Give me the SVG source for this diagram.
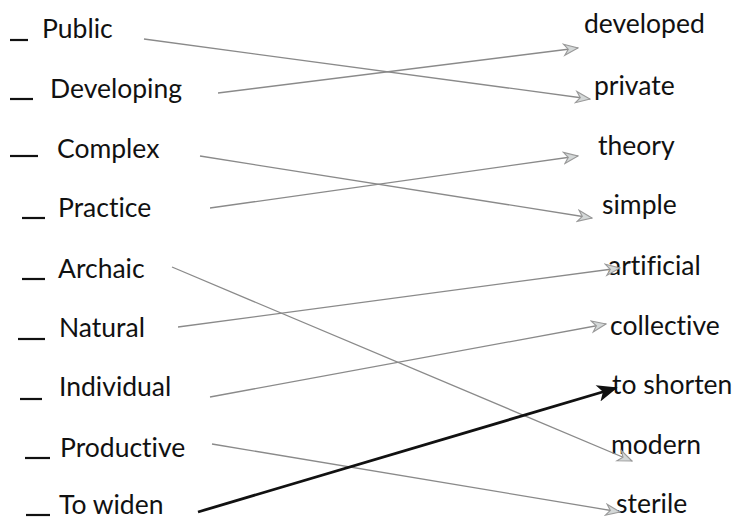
<svg xmlns="http://www.w3.org/2000/svg" width="739" height="521" viewBox="0 0 739 521">
<style>
text{font-family:Lato,"Open Sans","Liberation Sans",sans-serif;font-size:26.5px;fill:#111;font-variant-ligatures:none;font-feature-settings:"liga" 0}
.dash{stroke:#111;stroke-width:2.2}
.g{stroke:#8a8a8a;stroke-width:1.3;fill:none}
.b{stroke:#111;stroke-width:2.8;fill:none}
</style>
<defs>
<marker id="ga" viewBox="0 0 12 10" refX="11" refY="5" markerWidth="17" markerHeight="14" markerUnits="userSpaceOnUse" orient="auto">
<path d="M1,1 L11,5 L1,9 L4,5 Z" fill="#d4d8d8" stroke="#999" stroke-width="0.8"/>
</marker>
<marker id="ba" viewBox="0 0 12 10" refX="11" refY="5" markerWidth="22" markerHeight="17" markerUnits="userSpaceOnUse" orient="auto">
<path d="M0,0 L12,5 L0,10 L3,5 Z" fill="#111"/>
</marker>
</defs>
<rect width="739" height="521" fill="#fff"/>
<g id="left">
<g id="n-public"><line class="dash" x1="10" y1="40" x2="28" y2="40"/><text x="42" y="38">Public</text></g>
<g id="n-developing"><line class="dash" x1="10" y1="99" x2="33" y2="99"/><text x="50" y="98">Developing</text></g>
<g id="n-complex"><line class="dash" x1="10" y1="156" x2="38" y2="156"/><text x="57" y="158">Complex</text></g>
<g id="n-practice"><line class="dash" x1="22" y1="218" x2="45" y2="218"/><text x="58" y="217">Practice</text></g>
<g id="n-archaic"><line class="dash" x1="22" y1="279" x2="45" y2="279"/><text x="58" y="278">Archaic</text></g>
<g id="n-natural"><line class="dash" x1="18" y1="339" x2="45" y2="339"/><text x="59" y="337">Natural</text></g>
<g id="n-individual"><line class="dash" x1="20" y1="399" x2="42" y2="399"/><text x="59" y="396">Individual</text></g>
<g id="n-productive"><line class="dash" x1="25" y1="458" x2="50" y2="458"/><text x="60" y="457">Productive</text></g>
<g id="n-towiden"><line class="dash" x1="26" y1="515" x2="50" y2="515"/><text x="59" y="514">To widen</text></g>
</g>
<g id="right">
<g id="n-developed"><text x="584" y="33">developed</text></g>
<g id="n-private"><text x="594" y="95">private</text></g>
<g id="n-theory"><text x="598" y="155">theory</text></g>
<g id="n-simple"><text x="602" y="214">simple</text></g>
<g id="n-artificial"><text x="608" y="275">artificial</text></g>
<g id="n-collective"><text x="610" y="335">collective</text></g>
<g id="n-toshorten"><text x="612" y="394">to shorten</text></g>
<g id="n-modern"><text x="611" y="454">modern</text></g>
<g id="n-sterile"><text x="616" y="513">sterile</text></g>
</g>
<g id="connectors">
<line class="g" x1="144" y1="39" x2="590" y2="99" marker-end="url(#ga)"/>
<line class="g" x1="218" y1="93" x2="578" y2="48" marker-end="url(#ga)"/>
<line class="g" x1="200" y1="156" x2="592" y2="218" marker-end="url(#ga)"/>
<line class="g" x1="210" y1="208" x2="578" y2="156" marker-end="url(#ga)"/>
<line class="g" x1="172" y1="267" x2="632" y2="461" marker-end="url(#ga)"/>
<line class="g" x1="178" y1="327" x2="620" y2="268" marker-end="url(#ga)"/>
<line class="g" x1="210" y1="397" x2="606" y2="324" marker-end="url(#ga)"/>
<line class="g" x1="212" y1="444" x2="620" y2="512" marker-end="url(#ga)"/>
<line class="b" x1="198" y1="512" x2="616" y2="388" marker-end="url(#ba)"/>
</g>
</svg>
